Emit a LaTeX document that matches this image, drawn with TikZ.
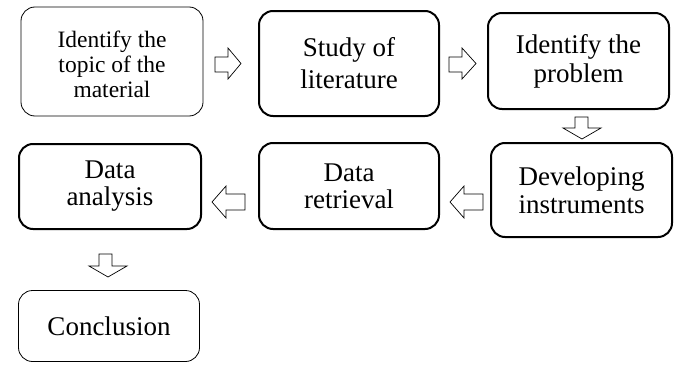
\documentclass[tikz,border=0pt]{standalone}
\usepackage{fontspec}
\setmainfont{Liberation Serif}
\begin{document}
\begin{tikzpicture}[x=1pt,y=-1pt,
  box/.style={draw, rounded corners=14pt, align=center, inner sep=0pt},
  thinbox/.style={box, line width=0.8pt},
  thickbox/.style={box, line width=2pt},
  barrow/.style={draw, line width=0.7pt, line join=miter}]
\useasboundingbox (0,0) rectangle (677,364);
\node[thinbox, minimum width=182pt, minimum height=109pt, font=\fontsize{23.5}{25}\selectfont] (b1) at (112,61.5) {\rule{0pt}{23pt}Identify the\\topic of the\\material};
\node[thickbox, minimum width=180pt, minimum height=105pt, font=\fontsize{27}{32}\selectfont] (b2) at (349,63.5) {Study of\\literature};
\node[thickbox, minimum width=181pt, minimum height=96pt, font=\fontsize{27}{29}\selectfont] (b3) at (578.5,61) {Identify the\\problem};
\node[thickbox, minimum width=181pt, minimum height=94pt, font=\fontsize{27}{28}\selectfont] (b4) at (581.5,190) {Developing\\instruments};
\node[thickbox, minimum width=180pt, minimum height=86pt, font=\fontsize{27}{27}\selectfont] (b5) at (349,186) {Data\\retrieval};
\node[thickbox, minimum width=182pt, minimum height=85pt, font=\fontsize{27}{27}\selectfont] (b6) at (110,186.5) {Data\\analysis};
\node[thinbox, minimum width=181pt, minimum height=71pt, font=\fontsize{27}{27}\selectfont] (b7) at (109,326) {Conclusion};
% block arrows
\draw[barrow] (215,57) -- (228,57) -- (228,48) -- (241,63.5) -- (228,79) -- (228,72) -- (215,72) -- cycle;
\draw[barrow] (449,57) -- (462,57) -- (462,48) -- (476,63.5) -- (462,79) -- (462,72) -- (449,72) -- cycle;
\draw[barrow] (575,117) -- (588,117) -- (588,128) -- (601,128) -- (582,139) -- (563,128) -- (575,128) -- cycle;
\draw[barrow] (483,194) -- (464,194) -- (464,186) -- (450,202) -- (464,218) -- (464,210) -- (483,210) -- cycle;
\draw[barrow] (245,194) -- (226,194) -- (226,186) -- (212,202) -- (226,218) -- (226,210) -- (245,210) -- cycle;
\draw[barrow] (99,254) -- (112,254) -- (112,266) -- (127,266) -- (108,277) -- (89,266) -- (99,266) -- cycle;
\end{tikzpicture}
\end{document}
